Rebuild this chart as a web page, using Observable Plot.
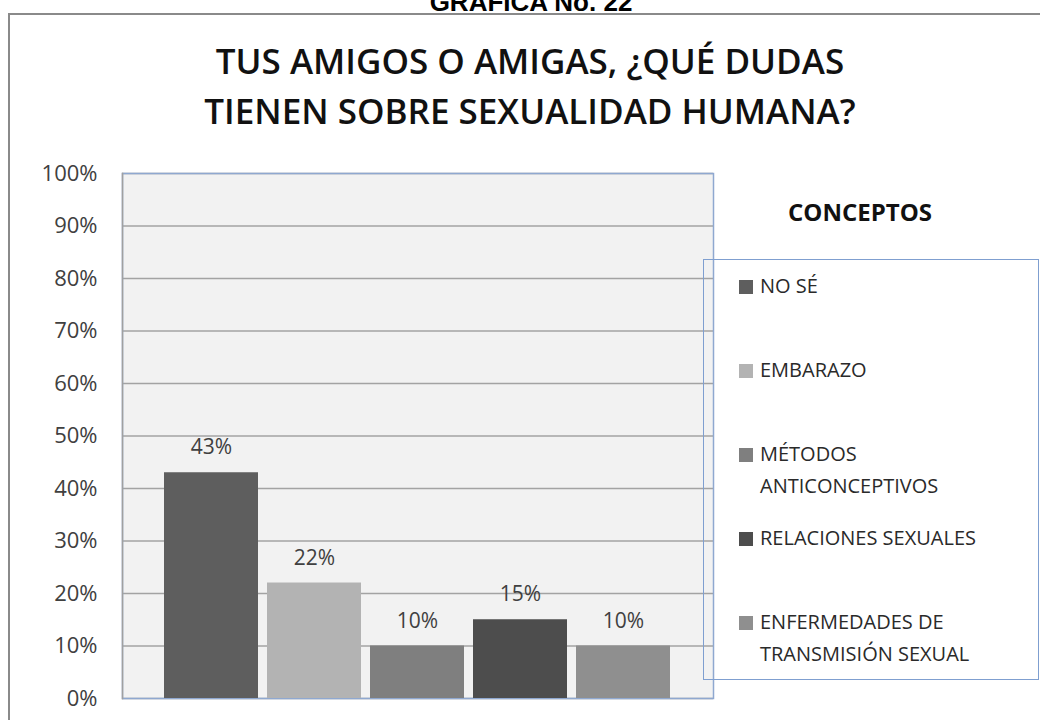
<!DOCTYPE html>
<html>
<head>
<meta charset="utf-8">
<script src="https://cdn.jsdelivr.net/npm/d3@7"></script>
<script src="https://cdn.jsdelivr.net/npm/@observablehq/plot@0.6"></script>
<style>
  html, body { margin: 0; padding: 0; background: #ffffff; }
  #page { position: relative; width: 1040px; height: 720px; overflow: hidden; background: #ffffff; }
  #outer { position: absolute; left: 8px; top: 13px; width: 1060px; height: 740px; border: 2px solid #8a8a8a; box-sizing: border-box; }
  #fig { position: absolute; left: 0; top: -11px; width: 1062px; text-align: center; font-family: "Liberation Sans", Arial, sans-serif; font-weight: bold; font-size: 26px; line-height: 26px; color: #000; }
  #title { position: absolute; left: 20px; top: 36px; width: 1020px; text-align: center; font-family: "Open Sans", sans-serif; font-weight: 600; font-size: 35px; line-height: 50px; color: #111; }
  #chart { position: absolute; left: 0; top: 0; }
  #legtitle { position: absolute; left: 760px; top: 200px; width: 200px; text-align: center; font-family: "Open Sans", sans-serif; font-weight: bold; font-size: 24px; line-height: 24px; color: #111; }
  #legend { position: absolute; left: 703px; top: 259px; width: 336px; height: 421px; border: 1px solid #7f9fd0; box-sizing: border-box; background: transparent; }
  .item { position: absolute; left: 35px; width: 270px; font-family: "Open Sans", sans-serif; font-size: 20px; line-height: 32px; color: #2a2a2a; }
  .item .sw { position: absolute; left: 0; top: 10px; width: 14px; height: 14px; }
  .item .lb { margin-left: 21px; display: block; }
</style>
</head>
<body>
<div id="page">
  <div id="fig">GRÁFICA No. 22</div>
  <div id="outer"></div>
  <div id="title">TUS AMIGOS O AMIGAS, ¿QUÉ DUDAS<br>TIENEN SOBRE SEXUALIDAD HUMANA?</div>
  <div id="chart"></div>
  <div id="legtitle">CONCEPTOS</div>
  <div id="legend"></div>
</div>
<script>
const categories = ["NO SÉ", "EMBARAZO", "MÉTODOS ANTICONCEPTIVOS", "RELACIONES SEXUALES", "ENFERMEDADES DE TRANSMISIÓN SEXUAL"];
const values = [0.43, 0.22, 0.10, 0.15, 0.10];
const valueLabels = ["43%", "22%", "10%", "15%", "10%"];
const yTicks = [0, 0.1, 0.2, 0.3, 0.4, 0.5, 0.6, 0.7, 0.8, 0.9, 1.0];
const yTickLabels = ["0%", "10%", "20%", "30%", "40%", "50%", "60%", "70%", "80%", "90%", "100%"];
const palette = ["#5e5e5e", "#b3b3b3", "#7f7f7f", "#4d4d4d", "#8f8f8f"];

const data = categories.map((c, i) => ({category: c, value: values[i], label: valueLabels[i]}));

const chart = Plot.plot({
  width: 1040,
  height: 720,
  marginLeft: 122,
  marginRight: 327,
  marginTop: 173,
  marginBottom: 22,
  style: {fontFamily: "Open Sans, sans-serif", fontSize: "22px", color: "#404040", background: "transparent", overflow: "visible"},
  x: {domain: categories, paddingInner: 0.087, paddingOuter: 0.39, axis: null},
  y: {domain: [0, 1]},
  color: {domain: categories, range: palette},
  marks: [
    Plot.frame({fill: "#f2f2f2", stroke: "none"}),
    Plot.gridY(yTicks, {stroke: "#a3a3a3", strokeOpacity: 1, strokeWidth: 1.5}),
    Plot.frame({stroke: "#8fa8d0", strokeWidth: 1.5}),
    Plot.frame({anchor: "left", stroke: "#a0a0a0", strokeWidth: 1.5}),
    Plot.axisY(yTicks, {tickSize: 0, tickPadding: 25, tickFormat: (d) => yTickLabels[yTicks.indexOf(d)], fontSize: 22, fill: "#404040", label: null}),
    Plot.barY(data, {x: "category", y: "value", fill: "category"}),
    Plot.text(data, {x: "category", y: "value", text: "label", dy: -25, fontSize: 21, fill: "#404040"})
  ]
});
document.getElementById("chart").appendChild(chart);

const legend = document.getElementById("legend");
categories.forEach((c, i) => {
  const item = document.createElement("div");
  item.className = "item";
  item.style.top = (10 + i * 84) + "px";
  const sw = document.createElement("span");
  sw.className = "sw";
  sw.style.background = palette[i];
  const lb = document.createElement("span");
  lb.className = "lb";
  lb.textContent = c;
  item.appendChild(sw);
  item.appendChild(lb);
  legend.appendChild(item);
});
</script>
</body>
</html>
